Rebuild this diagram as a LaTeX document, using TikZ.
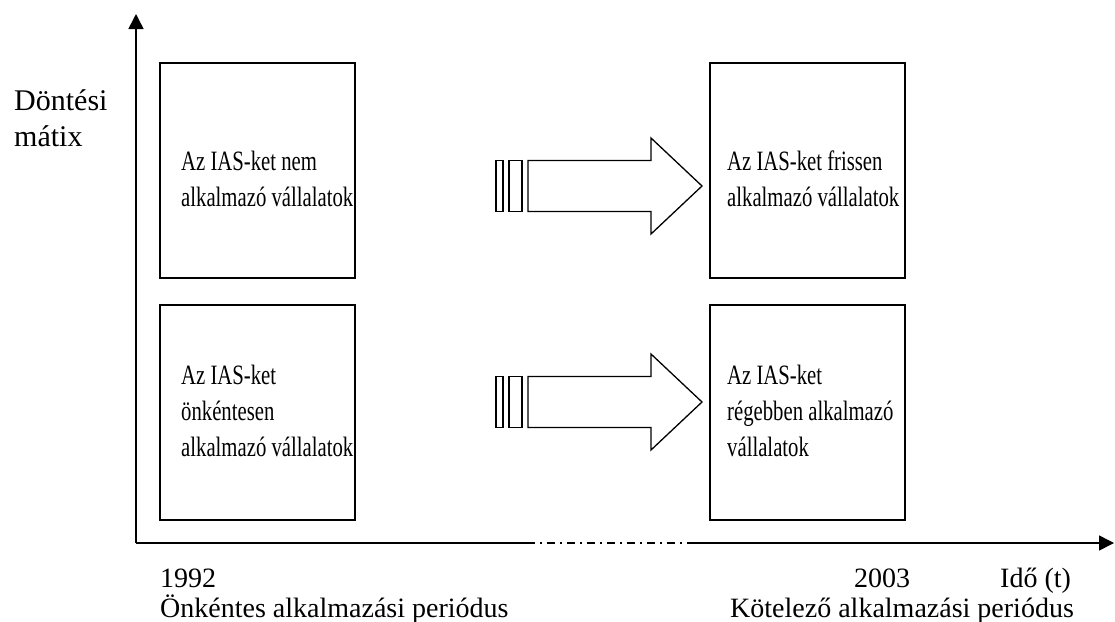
\documentclass[tikz,border=0pt]{standalone}
\usepackage{fontspec}
\setmainfont{Liberation Serif}
\newfontfamily\boxfont[FakeStretch=0.74]{Liberation Serif}
\usetikzlibrary{arrows.meta}
\begin{document}
\begin{tikzpicture}[x=1pt,y=-1pt,
  box/.style={draw,line width=1.6pt,minimum width=195pt,minimum height=215pt,inner sep=0pt},
  txt/.style={anchor=base west,inner sep=0pt,align=left,font=\fontsize{28}{36}\selectfont},
  btxt/.style={anchor=base west,inner sep=0pt,align=left,font=\boxfont\fontsize{28}{36}\selectfont},
  shaft/.style={draw,line width=1.3pt,line join=miter}
]
\useasboundingbox (0,0) rectangle (1115,621);
% axes
\coordinate (O) at (136,543);
\coordinate (Ytop) at (136,14);
\coordinate (Xa) at (527,543);
\coordinate (Xb) at (688,543);
\coordinate (Xend) at (1114,543);
\draw[line width=1.6pt,-{Triangle[length=15pt,width=15pt]}] (O) -- (Ytop);
\draw[line width=1.6pt] (O) -- (Xa);
\draw[line width=1.2pt,dash pattern=on 8pt off 5pt on 2pt off 5pt] (Xa) -- (Xb);
\draw[line width=1.6pt,-{Triangle[length=15pt,width=15pt]}] (Xb) -- (Xend);
% boxes
\node[box] (tl) at (257.5,170.5) {};
\node[box] (bl) at (257.5,412.5) {};
\node[box] (tr) at (807.5,170.5) {};
\node[box] (br) at (807.5,412.5) {};
% texts (base = baseline of last line)
\node[btxt] (tlt) at (181,206) {Az IAS-ket nem\\alkalmazó vállalatok};
\node[btxt] (blt) at (181,456) {Az IAS-ket\\önkéntesen\\alkalmazó vállalatok};
\node[btxt] (trt) at (727,206) {Az IAS-ket frissen\\alkalmazó vállalatok};
\node[btxt] (brt) at (727,456) {Az IAS-ket\\régebben alkalmazó\\vállalatok};
\node[txt,font=\fontsize{30}{36}\selectfont] (ylab) at (14,146) {Döntési\\mátix};
\node[txt] (y1992) at (160,587) {1992};
\node[txt] (p1) at (160,617) {Önkéntes alkalmazási periódus};
\node[txt] (y2003) at (854,587) {2003};
\node[txt] (ido) at (1000,587) {Idő (t)};
\node[txt] (p2) at (730,617) {Kötelező alkalmazási periódus};
% block arrows
\foreach \c/\n in {186/ta,402/ba}{
  \draw[shaft] (496,\c-25.5) rectangle (503,\c+25.5);
  \draw[shaft] (509,\c-25.5) rectangle (522,\c+25.5);
  \draw[shaft] (528,\c-25.5) -- (651,\c-25.5) -- (651,\c-48) -- (702,\c) -- (651,\c+48) -- (651,\c+25.5) -- (528,\c+25.5) -- cycle;
}
\end{tikzpicture}
\end{document}
